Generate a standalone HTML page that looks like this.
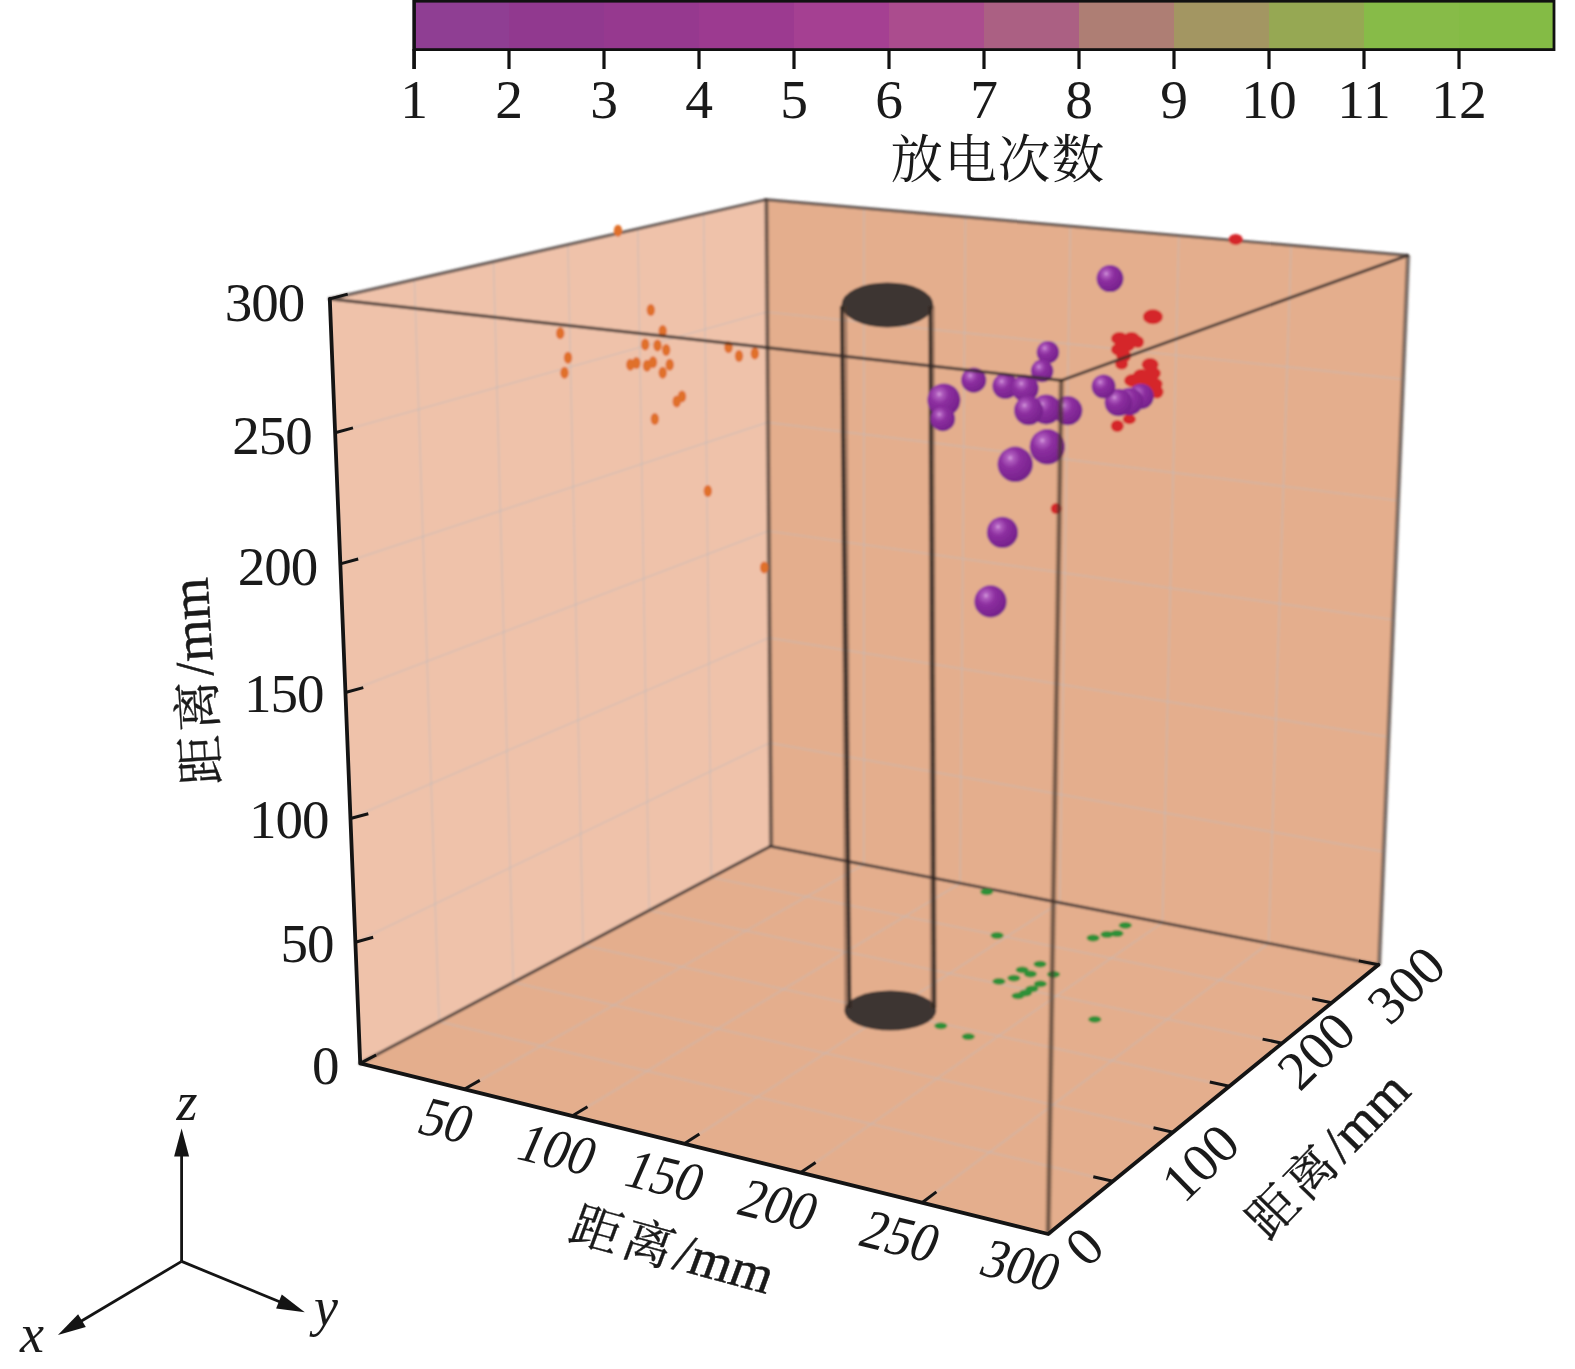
<!DOCTYPE html>
<html lang="zh"><head><meta charset="utf-8"><title>放电次数 3D</title>
<style>html,body{margin:0;padding:0;background:#fff}body{width:1575px;height:1369px;overflow:hidden}svg{display:block}text{font-family:"Liberation Serif","Noto Serif CJK SC",serif;fill:#1a1a1a}</style></head><body>
<svg width="1575" height="1369" viewBox="0 0 1575 1369">
<defs><filter id="b" x="-5%" y="-5%" width="110%" height="110%"><feGaussianBlur stdDeviation="1.05"/></filter>
<radialGradient id="sp" cx="0.36" cy="0.32" r="0.7"><stop offset="0" stop-color="#d9a3e0"/><stop offset="0.12" stop-color="#b260c0"/><stop offset="0.4" stop-color="#8d2fa0"/><stop offset="1" stop-color="#74208a"/></radialGradient>
</defs>
<g id="colorbar">
<rect x="414" y="1" width="95.6" height="48" fill="#8F3E93"/>
<rect x="509" y="1" width="95.6" height="48" fill="#91398F"/>
<rect x="604" y="1" width="95.6" height="48" fill="#96398F"/>
<rect x="699" y="1" width="95.6" height="48" fill="#9C3A90"/>
<rect x="794" y="1" width="95.6" height="48" fill="#A54092"/>
<rect x="889" y="1" width="95.6" height="48" fill="#AB4C8E"/>
<rect x="984" y="1" width="95.6" height="48" fill="#AB6083"/>
<rect x="1079" y="1" width="95.6" height="48" fill="#AE7E74"/>
<rect x="1174" y="1" width="95.6" height="48" fill="#A39662"/>
<rect x="1269" y="1" width="95.6" height="48" fill="#96A853"/>
<rect x="1364" y="1" width="95.6" height="48" fill="#87BB48"/>
<rect x="1459" y="1" width="95.6" height="48" fill="#84BB45"/>
<rect x="414" y="1.2" width="1140" height="48.4" fill="none" stroke="#111" stroke-width="2.8"/><line x1="414.2" y1="0" x2="414.2" y2="69" stroke="#111" stroke-width="3.3"/>
<line x1="414" y1="49" x2="414" y2="69" stroke="#111" stroke-width="3.2"/>
<line x1="509" y1="49" x2="509" y2="69" stroke="#111" stroke-width="3.2"/>
<line x1="604" y1="49" x2="604" y2="69" stroke="#111" stroke-width="3.2"/>
<line x1="699" y1="49" x2="699" y2="69" stroke="#111" stroke-width="3.2"/>
<line x1="794" y1="49" x2="794" y2="69" stroke="#111" stroke-width="3.2"/>
<line x1="889" y1="49" x2="889" y2="69" stroke="#111" stroke-width="3.2"/>
<line x1="984" y1="49" x2="984" y2="69" stroke="#111" stroke-width="3.2"/>
<line x1="1079" y1="49" x2="1079" y2="69" stroke="#111" stroke-width="3.2"/>
<line x1="1174" y1="49" x2="1174" y2="69" stroke="#111" stroke-width="3.2"/>
<line x1="1269" y1="49" x2="1269" y2="69" stroke="#111" stroke-width="3.2"/>
<line x1="1364" y1="49" x2="1364" y2="69" stroke="#111" stroke-width="3.2"/>
<line x1="1459" y1="49" x2="1459" y2="69" stroke="#111" stroke-width="3.2"/>
<text x="414" y="118" font-size="55.5" text-anchor="middle">1</text>
<text x="509" y="118" font-size="55.5" text-anchor="middle">2</text>
<text x="604" y="118" font-size="55.5" text-anchor="middle">3</text>
<text x="699" y="118" font-size="55.5" text-anchor="middle">4</text>
<text x="794" y="118" font-size="55.5" text-anchor="middle">5</text>
<text x="889" y="118" font-size="55.5" text-anchor="middle">6</text>
<text x="984" y="118" font-size="55.5" text-anchor="middle">7</text>
<text x="1079" y="118" font-size="55.5" text-anchor="middle">8</text>
<text x="1174" y="118" font-size="55.5" text-anchor="middle">9</text>
<text x="1269" y="118" font-size="55.5" text-anchor="middle">10</text>
<text x="1364" y="118" font-size="55.5" text-anchor="middle">11</text>
<text x="1459" y="118" font-size="55.5" text-anchor="middle">12</text>
<text x="998" y="178" font-size="52.5" letter-spacing="1.3" text-anchor="middle">放电次数</text>
</g>
<g id="scene" filter="url(#b)">
<polygon points="360.2,1063.4 770.3,846.3 765.8,199.7 329.8,298.9" fill="#EFC2AA"/>
<polygon points="770.3,846.3 1378.4,964.7 1407.5,255.4 765.8,199.7" fill="#E4AE8D"/>
<polygon points="360.2,1063.4 1048.2,1234 1378.4,964.7 770.3,846.3" fill="#E4AE8D"/>
<g stroke="#c4bcb8" stroke-width="1.7" stroke-opacity="0.47" fill="none">
<line x1="439.1" y1="1021.7" x2="414.4" y2="279.7"/>
<line x1="355.3" y1="942.2" x2="769.6" y2="742.9"/>
<line x1="863.8" y1="864.5" x2="864" y2="208.3"/>
<line x1="769.6" y1="742.9" x2="1383" y2="851.7"/>
<line x1="464.2" y1="1089.2" x2="863.8" y2="864.5"/>
<line x1="439.1" y1="1021.7" x2="1112.8" y2="1181.3"/>
<line x1="513.3" y1="982.4" x2="493.5" y2="261.7"/>
<line x1="350.4" y1="818.5" x2="768.9" y2="637.8"/>
<line x1="960.2" y1="883.3" x2="965.4" y2="217.1"/>
<line x1="768.9" y1="637.8" x2="1387.7" y2="736.8"/>
<line x1="572.1" y1="1116" x2="960.2" y2="883.3"/>
<line x1="513.3" y1="982.4" x2="1173" y2="1132.2"/>
<line x1="583.1" y1="945.4" x2="567.9" y2="244.8"/>
<line x1="345.4" y1="692.5" x2="768.1" y2="531"/>
<line x1="1059.7" y1="902.6" x2="1070.3" y2="226.2"/>
<line x1="768.1" y1="531" x2="1392.5" y2="619.7"/>
<line x1="684.2" y1="1143.8" x2="1059.7" y2="902.6"/>
<line x1="583.1" y1="945.4" x2="1229.3" y2="1086.3"/>
<line x1="649.1" y1="910.5" x2="637.8" y2="228.9"/>
<line x1="340.3" y1="563.9" x2="767.4" y2="422.4"/>
<line x1="1162.4" y1="922.6" x2="1178.8" y2="235.6"/>
<line x1="767.4" y1="422.4" x2="1397.4" y2="500.5"/>
<line x1="800.8" y1="1172.6" x2="1162.4" y2="922.6"/>
<line x1="649.1" y1="910.5" x2="1282.1" y2="1043.2"/>
<line x1="711.4" y1="877.5" x2="703.7" y2="213.9"/>
<line x1="335.1" y1="432.7" x2="766.6" y2="312"/>
<line x1="1268.6" y1="943.3" x2="1291.1" y2="245.3"/>
<line x1="766.6" y1="312" x2="1402.4" y2="379.1"/>
<line x1="922" y1="1202.7" x2="1268.6" y2="943.3"/>
<line x1="711.4" y1="877.5" x2="1331.7" y2="1002.7"/>
</g>
<g stroke="#4a3f3c" stroke-opacity="0.8" stroke-width="3.2" fill="none" stroke-linecap="round">
<line x1="329.8" y1="298.9" x2="765.8" y2="199.7"/>
<line x1="765.8" y1="199.7" x2="1407.5" y2="255.4"/>
<line x1="360.2" y1="1063.4" x2="770.3" y2="846.3" stroke="#3d3330" stroke-opacity="0.85" stroke-width="3"/>
<line x1="770.3" y1="846.3" x2="1378.4" y2="964.7" stroke="#3d3330" stroke-opacity="0.85" stroke-width="3"/>
</g>
<g fill="none" stroke-linecap="butt">
<line x1="771.1" y1="846.3" x2="766.4" y2="199.7" stroke="#5a4638" stroke-opacity="0.3" stroke-width="5.4"/>
<line x1="771.1" y1="846.3" x2="766.4" y2="199.7" stroke="#463a36" stroke-opacity="0.62" stroke-width="3.2"/>
<line x1="1379.2" y1="964.7" x2="1408.1" y2="255.4" stroke="#5a4638" stroke-opacity="0.3" stroke-width="5.4"/>
<line x1="1379.2" y1="964.7" x2="1408.1" y2="255.4" stroke="#463a36" stroke-opacity="0.62" stroke-width="3.2"/>
</g>
<g fill="#E0702A">
<ellipse cx="618" cy="230.7" rx="4.2" ry="6"/>
<ellipse cx="650.8" cy="310.1" rx="4.2" ry="6"/>
<ellipse cx="560.2" cy="333.2" rx="4.2" ry="6"/>
<ellipse cx="662.7" cy="331.1" rx="4.2" ry="6"/>
<ellipse cx="568" cy="357.8" rx="4.2" ry="6"/>
<ellipse cx="564.5" cy="372.7" rx="4.2" ry="6"/>
<ellipse cx="645.2" cy="344.6" rx="4.2" ry="6"/>
<ellipse cx="657.5" cy="345.5" rx="4.2" ry="6"/>
<ellipse cx="666.2" cy="349.9" rx="4.2" ry="6"/>
<ellipse cx="630.3" cy="364.8" rx="4.2" ry="6"/>
<ellipse cx="636.4" cy="363" rx="4.2" ry="6"/>
<ellipse cx="647" cy="365.7" rx="4.2" ry="6"/>
<ellipse cx="653" cy="362.2" rx="4.2" ry="6"/>
<ellipse cx="669.7" cy="364.8" rx="4.2" ry="6"/>
<ellipse cx="662.7" cy="372.7" rx="4.2" ry="6"/>
<ellipse cx="728.5" cy="347.3" rx="4.2" ry="6"/>
<ellipse cx="739" cy="356" rx="4.2" ry="6"/>
<ellipse cx="754.8" cy="353.4" rx="4.2" ry="6"/>
<ellipse cx="676.7" cy="401.6" rx="4.2" ry="6"/>
<ellipse cx="682" cy="396.4" rx="4.2" ry="6"/>
<ellipse cx="654.8" cy="419.1" rx="4.2" ry="6"/>
<ellipse cx="707.8" cy="491" rx="4.2" ry="6"/>
<ellipse cx="764.2" cy="567.6" rx="4.2" ry="6"/>
</g>
<g fill="#2f9038">
<ellipse cx="986.7" cy="891.8" rx="6.5" ry="3.4"/>
<ellipse cx="997.1" cy="935.5" rx="6.5" ry="3.4"/>
<ellipse cx="1125.3" cy="925.3" rx="6.5" ry="3.4"/>
<ellipse cx="1117" cy="933.5" rx="6.5" ry="3.4"/>
<ellipse cx="1107" cy="934.5" rx="6.5" ry="3.4"/>
<ellipse cx="1093.1" cy="938" rx="6.5" ry="3.4"/>
<ellipse cx="1040" cy="964.1" rx="6.5" ry="3.4"/>
<ellipse cx="1022.2" cy="969.9" rx="6.5" ry="3.4"/>
<ellipse cx="1030.4" cy="974" rx="6.5" ry="3.4"/>
<ellipse cx="1013.9" cy="978.1" rx="6.5" ry="3.4"/>
<ellipse cx="999" cy="981.4" rx="6.5" ry="3.4"/>
<ellipse cx="1053.5" cy="974.3" rx="6.5" ry="3.4"/>
<ellipse cx="1040.3" cy="983.9" rx="6.5" ry="3.4"/>
<ellipse cx="1032" cy="988.8" rx="6.5" ry="3.4"/>
<ellipse cx="1025.5" cy="993" rx="6.5" ry="3.4"/>
<ellipse cx="1018" cy="995.8" rx="6.5" ry="3.4"/>
<ellipse cx="1094.8" cy="1019.4" rx="6.5" ry="3.4"/>
<ellipse cx="940.8" cy="1025.8" rx="6.5" ry="3.4"/>
<ellipse cx="968.3" cy="1036.6" rx="6.5" ry="3.4"/>
</g>
<g id="cyl">
<ellipse cx="890.3" cy="1010.6" rx="46" ry="20" fill="#3e3431"/>
<ellipse cx="887.4" cy="304.9" rx="46" ry="22.5" fill="#3e3431"/>
<line x1="843.5" y1="306" x2="848" y2="1008" stroke="#4a382e" stroke-opacity="0.4" stroke-width="7.5"/>
<line x1="841.8" y1="306" x2="849.4" y2="1008" stroke="#2a2320" stroke-opacity="0.85" stroke-width="3.6"/>
<line x1="931.3" y1="306" x2="933.5" y2="1008" stroke="#4a382e" stroke-opacity="0.4" stroke-width="7"/>
<line x1="930.5" y1="306" x2="934" y2="1008" stroke="#2a2320" stroke-opacity="0.85" stroke-width="3.4"/>
</g>
<g fill="#d5282b">
<ellipse cx="1235.7" cy="239.4" rx="7" ry="5.5"/>
<ellipse cx="1152.9" cy="316.8" rx="10" ry="7.5"/>
<ellipse cx="1119.5" cy="338.5" rx="8.5" ry="6.5"/>
<ellipse cx="1131.5" cy="338.5" rx="8.5" ry="6.5"/>
<ellipse cx="1126" cy="345" rx="9" ry="7"/>
<ellipse cx="1138" cy="342" rx="6" ry="6"/>
<ellipse cx="1119.5" cy="349.5" rx="8.5" ry="6.5"/>
<ellipse cx="1123.8" cy="356" rx="7.5" ry="6.5"/>
<ellipse cx="1121.6" cy="364" rx="6.5" ry="5.5"/>
<ellipse cx="1150.1" cy="364.5" rx="8.5" ry="6.5"/>
<ellipse cx="1152.3" cy="373.3" rx="8.5" ry="6.5"/>
<ellipse cx="1141.4" cy="375.5" rx="8.5" ry="6.5"/>
<ellipse cx="1132.6" cy="380.5" rx="8.5" ry="6.5"/>
<ellipse cx="1148.5" cy="379.5" rx="8" ry="7"/>
<ellipse cx="1154.5" cy="384.2" rx="8" ry="6.5"/>
<ellipse cx="1157" cy="392" rx="6.5" ry="6.5"/>
<ellipse cx="1146" cy="387" rx="8.5" ry="6.5"/>
<ellipse cx="1117.3" cy="425.9" rx="6.5" ry="6"/>
<ellipse cx="1129.3" cy="419.3" rx="6.5" ry="5"/>
<ellipse cx="1056.2" cy="508.6" rx="5.5" ry="5.5"/>
</g>
<circle cx="1110" cy="278.6" r="13.5" fill="url(#sp)"/>
<circle cx="1047.9" cy="352.2" r="11.3" fill="url(#sp)"/>
<circle cx="1042.1" cy="370.9" r="11.3" fill="url(#sp)"/>
<circle cx="973.7" cy="380.2" r="12.6" fill="url(#sp)"/>
<circle cx="1005.3" cy="386.1" r="13" fill="url(#sp)"/>
<circle cx="1025.1" cy="388.4" r="13.6" fill="url(#sp)"/>
<circle cx="943.9" cy="400.1" r="16.6" fill="url(#sp)"/>
<circle cx="942.8" cy="418.8" r="12.4" fill="url(#sp)"/>
<circle cx="1067.8" cy="410.6" r="14.6" fill="url(#sp)"/>
<circle cx="1046.2" cy="409.4" r="15" fill="url(#sp)"/>
<circle cx="1028.6" cy="410.6" r="14.6" fill="url(#sp)"/>
<circle cx="1047.3" cy="446.8" r="17.7" fill="url(#sp)"/>
<circle cx="1015.2" cy="464.3" r="17.7" fill="url(#sp)"/>
<circle cx="1141" cy="396.5" r="12.8" fill="url(#sp)"/>
<circle cx="1129.5" cy="401.5" r="13.8" fill="url(#sp)"/>
<circle cx="1118.4" cy="402.5" r="13.8" fill="url(#sp)"/>
<circle cx="1103.6" cy="386.4" r="12" fill="url(#sp)"/>
<circle cx="1002.4" cy="532.4" r="15.6" fill="url(#sp)"/>
<circle cx="990.5" cy="601.4" r="16.2" fill="url(#sp)"/>
<g stroke="#352b28" stroke-opacity="0.8" stroke-width="3.2" fill="none" stroke-linecap="round">
<line x1="329.8" y1="298.9" x2="1061.3" y2="380.4"/>
<line x1="1061.3" y1="380.4" x2="1407.5" y2="255.4"/>
</g>
<line x1="1048.2" y1="1234" x2="1061.3" y2="380.4" stroke="#5a4030" stroke-opacity="0.32" stroke-width="6.5"/>
<line x1="1048.2" y1="1234" x2="1061.3" y2="380.4" stroke="#3a2e2a" stroke-opacity="0.6" stroke-width="3"/>
</g>
<g id="axes" stroke="#141414" stroke-width="3.8" fill="none" stroke-linecap="round" stroke-linejoin="round">
<polyline points="329.8,298.9 360.2,1063.4 1048.2,1234 1378.4,964.7"/>
</g>
<g id="ticks" stroke="#141414" stroke-width="3" fill="none" stroke-linecap="butt">
<line x1="360.2" y1="1063.4" x2="376.1" y2="1055"/>
<line x1="464.2" y1="1089.2" x2="479.8" y2="1080.4"/>
<line x1="572.1" y1="1116" x2="587.5" y2="1106.7"/>
<line x1="684.2" y1="1143.8" x2="699.4" y2="1134"/>
<line x1="800.8" y1="1172.6" x2="815.6" y2="1162.4"/>
<line x1="922" y1="1202.7" x2="936.4" y2="1191.9"/>
<line x1="1112.8" y1="1181.3" x2="1093.3" y2="1176.7"/>
<line x1="1173" y1="1132.2" x2="1153.5" y2="1127.8"/>
<line x1="1229.3" y1="1086.3" x2="1209.8" y2="1082"/>
<line x1="1282.1" y1="1043.2" x2="1262.6" y2="1039.1"/>
<line x1="1331.7" y1="1002.7" x2="1312.1" y2="998.8"/>
<line x1="1378.4" y1="964.7" x2="1358.8" y2="960.9"/>
<line x1="355.3" y1="942.2" x2="373.2" y2="937.3"/>
<line x1="350.4" y1="818.5" x2="368.3" y2="813.7"/>
<line x1="345.4" y1="692.5" x2="363.3" y2="687.6"/>
<line x1="340.3" y1="563.9" x2="358.2" y2="559"/>
<line x1="335.1" y1="432.7" x2="353" y2="427.9"/>
<line x1="329.8" y1="298.9" x2="347.7" y2="294.1"/>
</g>
<g id="zlabels" font-size="55" letter-spacing="-1" text-anchor="end">
<text x="338.6" y="1083.7">0</text>
<text x="333.5" y="962.2">50</text>
<text x="328.4" y="838.1">100</text>
<text x="323.4" y="712">150</text>
<text x="317.3" y="584.8">200</text>
<text x="311.7" y="454.4">250</text>
<text x="304.3" y="320.9">300</text>
</g>
<g id="xlabels" font-size="55" text-anchor="middle">
<text transform="matrix(0.895 0.217 -0.41 0.95 446 1121.7)" x="0" y="17">50</text>
<text transform="matrix(0.895 0.217 -0.41 0.95 557 1150.7)" x="0" y="17">100</text>
<text transform="matrix(0.895 0.217 -0.41 0.95 664.3 1177.2)" x="0" y="17">150</text>
<text transform="matrix(0.895 0.217 -0.41 0.95 778.2 1206.2)" x="0" y="17">200</text>
<text transform="matrix(0.895 0.217 -0.41 0.95 899.8 1237.5)" x="0" y="17">250</text>
<text transform="matrix(0.895 0.217 -0.41 0.95 1020.5 1266.5)" x="0" y="17">300</text>
</g>
<g id="ylabels" font-size="55" text-anchor="middle">
<text transform="translate(1084.7 1246.8) rotate(-44.5)" x="0" y="18">0</text>
<text transform="translate(1200.6 1163) rotate(-44.5)" x="0" y="18">100</text>
<text transform="translate(1316.5 1051) rotate(-44.5)" x="0" y="18">200</text>
<text transform="translate(1406.6 985.2) rotate(-44.5)" x="0" y="18">300</text>
</g>
<text transform="translate(220 784) rotate(-93.5)" x="0" y="0"><tspan stroke="#1a1a1a" stroke-width="0.3" font-size="50" letter-spacing="4.3">距离</tspan><tspan stroke="#1a1a1a" stroke-width="0.5" font-size="54">/mm</tspan></text>
<text transform="matrix(0.965 0.262 -0.35 0.95 566.2 1239.7)" x="0" y="0"><tspan stroke="#1a1a1a" stroke-width="0.3" font-size="50" letter-spacing="4.3">距离</tspan><tspan stroke="#1a1a1a" stroke-width="0.5" font-size="54">/mm</tspan></text>
<text transform="translate(1268.1 1242) rotate(-45.8)" x="0" y="0"><tspan stroke="#1a1a1a" stroke-width="0.3" font-size="50" letter-spacing="4.3">距离</tspan><tspan stroke="#1a1a1a" stroke-width="0.5" font-size="54">/mm</tspan></text>
<g id="triad" stroke="#141414" stroke-width="2.8" fill="#141414">
<line x1="181.6" y1="1261.4" x2="181.6" y2="1154.6"/><polygon stroke="none" points="181.6,1128.6 189.1,1156.6 174.1,1156.6"/>
<line x1="181.6" y1="1261.4" x2="80.2" y2="1321.7"/><polygon stroke="none" points="57.9,1335 78.1,1314.2 85.8,1327.1"/>
<line x1="181.6" y1="1261.4" x2="280.8" y2="1302.3"/><polygon stroke="none" points="304.8,1312.2 276.1,1308.5 281.8,1294.6"/>
</g>
<g font-size="54" font-style="italic" text-anchor="middle"><text x="187" y="1120">z</text><text x="32" y="1352">x</text><text x="326" y="1325">y</text></g>
</svg></body></html>
